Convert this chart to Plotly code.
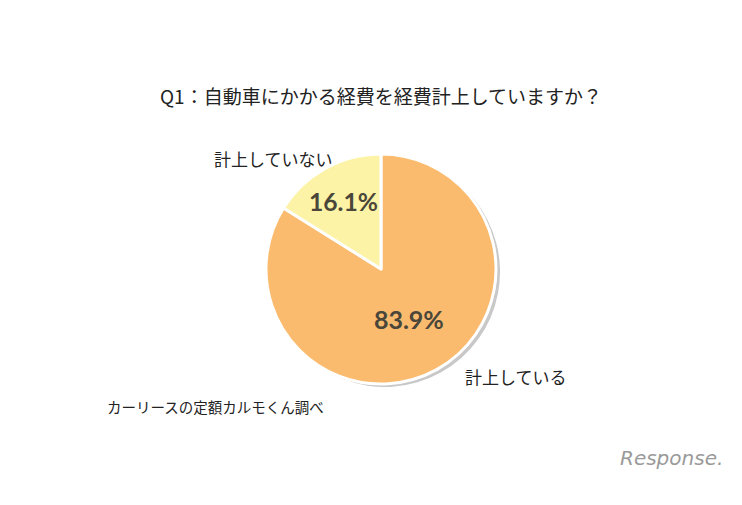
import plotly.graph_objects as go

title_text = "Q1：自動車にかかる経費を経費計上していますか？"
labels = ["計上している", "計上していない"]
values = [83.9, 16.1]
colors = ["#fabb6e", "#fdf3a6"]
source_text = "カーリースの定額カルモくん調べ"
logo_text = "Response."

W, H = 742, 505
cx, cy, r = 381, 269, 115

def dom(cx, cy, r):
    return dict(x=[(cx - r) / W, (cx + r) / W], y=[1 - (cy + r) / H, 1 - (cy - r) / H])

fig = go.Figure()
# shadow
fig.add_trace(go.Pie(
    labels=labels, values=values, sort=False, direction="clockwise", rotation=0,
    marker=dict(colors=["#c8c8c8", "#c8c8c8"], line=dict(width=0)),
    textinfo="none", hoverinfo="skip", showlegend=False,
    domain=dom(cx + 4, cy + 3, r),
))
fig.add_trace(go.Pie(
    labels=labels, values=values, sort=False, direction="clockwise", rotation=0,
    marker=dict(colors=colors, line=dict(color="white", width=3)),
    texttemplate="<b>%{value}%</b>", textposition="inside",
    insidetextorientation="horizontal",
    textfont=dict(family="Lato, Noto Sans", size=25, color="#4a463a"),
    showlegend=False,
    domain=dom(cx, cy, r),
))

def ann(text, x, y, size, color="#222222", family="Noto Sans CJK JP"):
    fig.add_annotation(text=text, x=x / W, y=1 - y / H, xref="paper", yref="paper",
                       xanchor="center", yanchor="middle", showarrow=False,
                       font=dict(family=family, size=size, color=color))

ann(title_text, 381, 96, 19)
ann(labels[1], 273, 158, 17)
ann(labels[0], 516, 376, 17)
ann(source_text, 215, 406, 14.5)
ann("<i>" + logo_text + "</i>", 671, 458, 20, color="#9a9a9a", family="DejaVu Sans")

fig.update_layout(width=W, height=H, margin=dict(l=0, r=0, t=0, b=0),
                  paper_bgcolor="white", plot_bgcolor="white")
fig.write_html("out.html", config={"displayModeBar": False},
               post_script="document.body.style.margin='0';")
